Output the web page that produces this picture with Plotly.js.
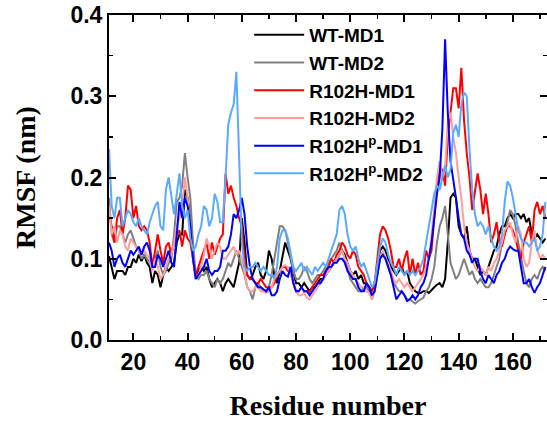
<!DOCTYPE html>
<html>
<head>
<meta charset="utf-8">
<script src="https://cdn.plot.ly/plotly-3.0.1.min.js"></script>
<style>html,body{margin:0;padding:0;background:#fff;overflow:hidden}</style>
</head>
<body>
<div id="chart" style="width:547px;height:421px"></div>
<script>
// Residue numbers 11..172
const residues = [];
for (let r = 11; r <= 172; r++) residues.push(r);

const wtMD1 = [
0.103,0.09,0.075,0.085,0.085,0.085,0.08,0.09,0.09,0.1,
0.095,0.105,0.097,0.105,0.095,0.09,0.07,0.085,0.08,0.065,
0.08,0.09,0.085,0.09,0.095,0.12,0.13,0.13,0.185,0.175,
0.15,0.1,0.08,0.085,0.09,0.085,0.09,0.075,0.065,0.07,
0.075,0.07,0.06,0.07,0.075,0.07,0.065,0.08,0.095,0.15,
0.12,0.08,0.075,0.08,0.09,0.095,0.08,0.075,0.085,0.11,
0.1,0.08,0.07,0.085,0.105,0.12,0.11,0.1,0.085,0.07,
0.07,0.065,0.07,0.065,0.06,0.065,0.065,0.07,0.075,0.075,
0.08,0.085,0.09,0.095,0.1,0.105,0.11,0.105,0.095,0.085,
0.08,0.085,0.075,0.08,0.07,0.07,0.065,0.06,0.07,0.09,
0.11,0.115,0.11,0.1,0.09,0.085,0.08,0.085,0.09,0.08,
0.085,0.07,0.065,0.06,0.058,0.058,0.06,0.06,0.058,0.062,
0.065,0.068,0.07,0.065,0.075,0.12,0.175,0.18,0.175,0.14,
0.13,0.125,0.14,0.11,0.1,0.1,0.09,0.08,0.085,0.08,
0.09,0.1,0.11,0.115,0.13,0.14,0.14,0.15,0.155,0.15,
0.155,0.155,0.15,0.155,0.145,0.15,0.13,0.125,0.13,0.125,
0.12,0.125];

const wtMD2 = [
0.175,0.13,0.12,0.14,0.14,0.13,0.12,0.13,0.135,0.125,
0.115,0.11,0.1,0.105,0.1,0.095,0.09,0.1,0.11,0.09,
0.08,0.085,0.095,0.1,0.13,0.17,0.175,0.19,0.23,0.2,
0.175,0.12,0.08,0.075,0.08,0.08,0.085,0.075,0.07,0.065,
0.075,0.07,0.075,0.085,0.095,0.09,0.1,0.11,0.1,0.09,
0.08,0.065,0.06,0.05,0.065,0.07,0.065,0.06,0.06,0.065,
0.08,0.1,0.12,0.14,0.14,0.135,0.12,0.1,0.085,0.075,
0.075,0.08,0.09,0.085,0.075,0.07,0.075,0.08,0.08,0.085,
0.09,0.095,0.1,0.105,0.11,0.12,0.11,0.1,0.09,0.075,
0.07,0.065,0.06,0.06,0.065,0.065,0.06,0.05,0.06,0.08,
0.1,0.105,0.1,0.09,0.08,0.07,0.065,0.06,0.06,0.055,
0.05,0.05,0.048,0.045,0.048,0.05,0.052,0.06,0.065,0.075,
0.09,0.12,0.14,0.15,0.165,0.13,0.095,0.085,0.075,0.08,
0.09,0.1,0.09,0.08,0.085,0.075,0.07,0.075,0.07,0.065,
0.065,0.07,0.08,0.09,0.1,0.12,0.13,0.145,0.16,0.155,
0.14,0.12,0.1,0.085,0.07,0.065,0.075,0.08,0.075,0.085,
0.09,0.085];

const r102hMD1 = [
0.155,0.14,0.12,0.15,0.16,0.13,0.15,0.19,0.185,0.15,
0.165,0.14,0.135,0.14,0.135,0.12,0.09,0.11,0.13,0.11,
0.095,0.115,0.12,0.105,0.12,0.13,0.135,0.115,0.135,0.125,
0.12,0.1,0.08,0.09,0.1,0.11,0.12,0.1,0.12,0.105,
0.115,0.125,0.13,0.205,0.18,0.19,0.175,0.165,0.15,0.14,
0.1,0.08,0.075,0.075,0.07,0.07,0.075,0.07,0.065,0.065,
0.065,0.07,0.08,0.085,0.09,0.09,0.085,0.085,0.07,0.06,
0.06,0.065,0.06,0.06,0.06,0.065,0.07,0.075,0.08,0.08,
0.085,0.09,0.1,0.095,0.105,0.11,0.12,0.115,0.105,0.1,
0.11,0.105,0.09,0.085,0.08,0.07,0.065,0.06,0.07,0.1,
0.13,0.14,0.135,0.125,0.11,0.09,0.09,0.1,0.085,0.1,
0.11,0.08,0.1,0.08,0.095,0.08,0.085,0.11,0.1,0.11,
0.15,0.19,0.21,0.21,0.19,0.25,0.28,0.31,0.31,0.285,
0.335,0.27,0.23,0.2,0.16,0.185,0.205,0.185,0.155,0.18,
0.155,0.12,0.13,0.145,0.12,0.115,0.13,0.14,0.14,0.135,
0.125,0.11,0.1,0.12,0.13,0.14,0.12,0.16,0.17,0.155,
0.165,0.15];

const r102hMD2 = [
0.165,0.13,0.14,0.12,0.135,0.13,0.115,0.11,0.125,0.12,
0.115,0.11,0.105,0.11,0.105,0.1,0.085,0.1,0.09,0.075,
0.08,0.09,0.1,0.105,0.12,0.14,0.15,0.165,0.2,0.175,
0.14,0.1,0.075,0.08,0.09,0.105,0.125,0.115,0.1,0.11,
0.12,0.115,0.1,0.1,0.105,0.11,0.115,0.105,0.11,0.1,
0.08,0.065,0.06,0.06,0.065,0.065,0.06,0.06,0.058,0.06,
0.065,0.075,0.08,0.085,0.09,0.092,0.09,0.08,0.07,0.06,
0.055,0.055,0.058,0.052,0.05,0.055,0.06,0.065,0.07,0.075,
0.08,0.085,0.09,0.095,0.1,0.105,0.11,0.1,0.095,0.085,
0.08,0.075,0.07,0.065,0.065,0.06,0.058,0.05,0.06,0.08,
0.1,0.11,0.1,0.095,0.085,0.075,0.07,0.075,0.07,0.065,
0.07,0.065,0.06,0.065,0.07,0.075,0.08,0.09,0.1,0.13,
0.16,0.2,0.22,0.2,0.21,0.27,0.28,0.25,0.23,0.2,
0.175,0.14,0.12,0.11,0.1,0.09,0.085,0.09,0.085,0.08,
0.09,0.085,0.095,0.1,0.11,0.12,0.135,0.14,0.145,0.13,
0.12,0.14,0.13,0.1,0.09,0.095,0.12,0.135,0.11,0.1,
0.105,0.1];

const r102hpMD1 = [
0.12,0.11,0.09,0.1,0.105,0.095,0.09,0.1,0.11,0.105,
0.11,0.115,0.105,0.115,0.12,0.11,0.09,0.09,0.105,0.1,
0.09,0.1,0.11,0.095,0.09,0.13,0.17,0.15,0.175,0.165,
0.14,0.1,0.075,0.08,0.085,0.09,0.1,0.085,0.08,0.085,
0.085,0.09,0.11,0.11,0.115,0.13,0.155,0.15,0.16,0.175,
0.155,0.115,0.09,0.075,0.07,0.065,0.065,0.062,0.06,0.065,
0.055,0.055,0.06,0.075,0.085,0.08,0.078,0.09,0.07,0.06,
0.06,0.065,0.06,0.06,0.055,0.06,0.065,0.07,0.07,0.075,
0.085,0.09,0.09,0.095,0.095,0.1,0.1,0.095,0.085,0.08,
0.075,0.075,0.065,0.06,0.06,0.07,0.065,0.055,0.06,0.08,
0.1,0.105,0.1,0.09,0.08,0.065,0.05,0.055,0.06,0.055,
0.048,0.05,0.055,0.05,0.055,0.065,0.07,0.08,0.1,0.12,
0.15,0.18,0.2,0.26,0.37,0.28,0.22,0.2,0.175,0.15,
0.13,0.125,0.11,0.105,0.095,0.1,0.1,0.085,0.075,0.07,
0.08,0.075,0.07,0.08,0.085,0.095,0.1,0.11,0.115,0.112,
0.11,0.11,0.09,0.07,0.07,0.075,0.065,0.058,0.065,0.07,
0.08,0.09];

const r102hpMD2 = [
0.235,0.165,0.15,0.175,0.175,0.14,0.15,0.16,0.155,0.145,
0.14,0.15,0.14,0.135,0.13,0.145,0.155,0.165,0.17,0.14,
0.135,0.185,0.2,0.18,0.155,0.18,0.205,0.165,0.15,0.16,
0.125,0.11,0.115,0.13,0.14,0.165,0.16,0.14,0.15,0.18,
0.17,0.145,0.145,0.2,0.265,0.28,0.29,0.33,0.21,0.12,
0.09,0.085,0.09,0.09,0.095,0.09,0.085,0.09,0.085,0.08,
0.08,0.075,0.09,0.125,0.135,0.135,0.125,0.105,0.09,0.085,
0.09,0.095,0.085,0.09,0.085,0.08,0.09,0.085,0.09,0.095,
0.09,0.1,0.11,0.12,0.13,0.16,0.165,0.155,0.13,0.115,
0.11,0.115,0.1,0.09,0.095,0.085,0.075,0.065,0.07,0.09,
0.115,0.125,0.12,0.105,0.095,0.09,0.08,0.09,0.085,0.08,
0.085,0.08,0.085,0.08,0.085,0.09,0.1,0.12,0.14,0.16,
0.18,0.19,0.185,0.2,0.215,0.2,0.21,0.255,0.265,0.25,
0.29,0.305,0.3,0.235,0.185,0.155,0.14,0.145,0.14,0.13,
0.14,0.125,0.115,0.11,0.115,0.13,0.17,0.195,0.19,0.175,
0.155,0.135,0.125,0.12,0.12,0.115,0.12,0.125,0.11,0.115,
0.13,0.17];

const seriesNames = ['WT-MD1','WT-MD2','R102H-MD1','R102H-MD2','R102H<sup>p</sup>-MD1','R102H<sup>p</sup>-MD2'];
const seriesData = [wtMD1, wtMD2, r102hMD1, r102hMD2, r102hpMD1, r102hpMD2];
const seriesColors = ['#000000','#808080','#ff0000','#ff9e9e','#0000ff','#5aaaff'];

const xTicks = [20,40,60,80,100,120,140,160];

const traces = seriesData.map((d, i) => ({
  x: residues, y: d, type: 'scatter', mode: 'lines', name: seriesNames[i],
  line: {color: seriesColors[i], width: 2}
}));

const tickFont = {family: 'Liberation Sans, Arial, sans-serif', size: 23, color: '#000', weight: 700};
const titleFont = {family: 'Liberation Serif, Times New Roman, serif', size: 28, color: '#000', weight: 700};

const layout = {
  width: 547, height: 421,
  margin: {l: 109, r: 0, t: 15, b: 81},
  paper_bgcolor: '#fff', plot_bgcolor: '#fff',
  showlegend: true,
  legend: {
    x: 0.32, y: 0.997, xanchor: 'left', yanchor: 'top',
    bgcolor: 'rgba(0,0,0,0)', borderwidth: 0,
    font: {family: 'Liberation Sans, Arial, sans-serif', size: 19, color: '#000', weight: 700},
    itemwidth: 50, tracegroupgap: 0
  },
  xaxis: {
    range: [11, 172.6], showgrid: false, zeroline: false,
    showline: true, linecolor: '#000', linewidth: 2, mirror: 'ticks',
    ticks: 'inside', ticklen: 7, tickwidth: 2, tickcolor: '#000',
    tickmode: 'array', tickvals: xTicks, ticktext: xTicks.map(String),
    minor: {dtick: 10, tick0: 0, ticks: 'inside', ticklen: 4, tickwidth: 1.5, tickcolor: '#000'},
    tickfont: tickFont,
    title: {text: 'Residue number', font: titleFont, standoff: 25}
  },
  yaxis: {
    range: [0, 0.4], showgrid: false, zeroline: false,
    showline: true, linecolor: '#000', linewidth: 2, mirror: 'ticks',
    ticks: 'inside', ticklen: 7, tickwidth: 2, tickcolor: '#000',
    dtick: 0.1, tick0: 0, tickformat: '.1f',
    minor: {dtick: 0.05, tick0: 0, ticks: 'inside', ticklen: 4, tickwidth: 1.5, tickcolor: '#000'},
    tickfont: tickFont,
    title: {text: 'RMSF (nm)', font: titleFont, standoff: 27}
  }
};

Plotly.newPlot('chart', traces, layout, {displayModeBar: false, staticPlot: true});
</script>
</body>
</html>
